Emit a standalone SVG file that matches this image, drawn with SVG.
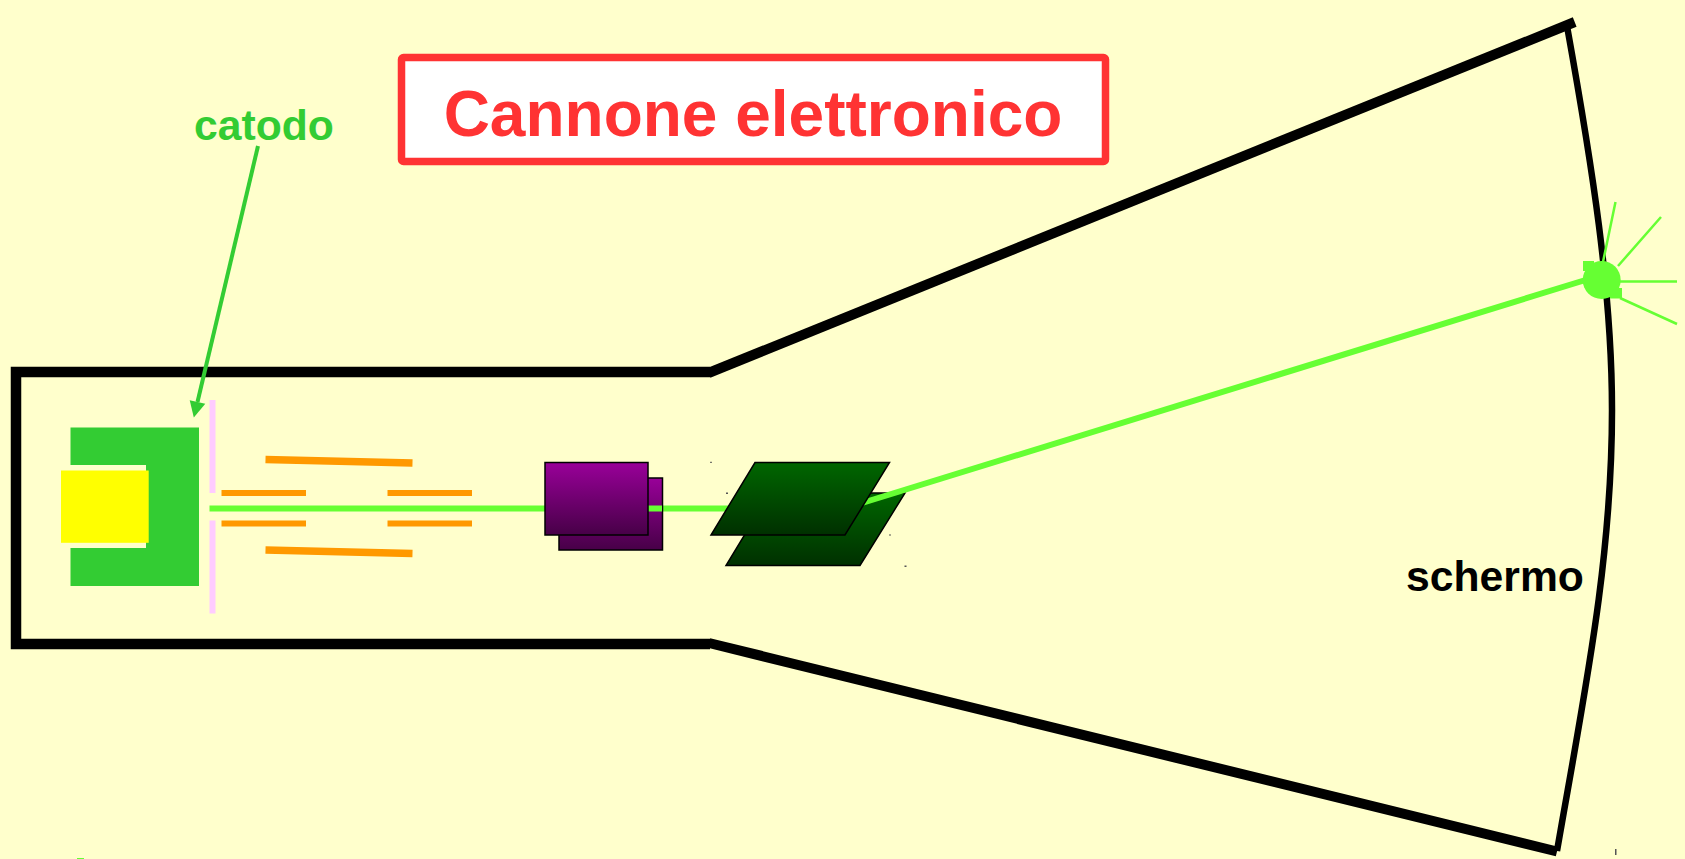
<svg xmlns="http://www.w3.org/2000/svg" width="1685" height="859" viewBox="0 0 1685 859">
<style>
text{font-family:"Liberation Sans",Arial,sans-serif;font-weight:bold}
.tube{fill:none;stroke:#000;stroke-linecap:butt}
.beam{fill:none;stroke:#66ff33;stroke-width:6}
.ray{fill:none;stroke:#66ff33;stroke-width:2.5}
.or{fill:none;stroke:#ff9900}
.pk{fill:#ffccff}
.pl{stroke:#000;stroke-width:1.5}
.dot{fill:#555}
</style>
<defs>
<linearGradient id="pg" x1="0" y1="0" x2="0" y2="1"><stop offset="0" stop-color="#990099"/><stop offset="1" stop-color="#470047"/></linearGradient>
<linearGradient id="gg" x1="0" y1="0" x2="0" y2="1"><stop offset="0" stop-color="#006600"/><stop offset="1" stop-color="#003000"/></linearGradient>
<marker id="ah" markerUnits="userSpaceOnUse" markerWidth="18" markerHeight="18" refX="0" refY="8" orient="auto" overflow="visible"><path d="M0 0L16 8L0 16Z" fill="#33cc33"/></marker>
</defs>
<rect width="1685" height="859" fill="#ffffcc"/>
<g id="tube">
<path class="tube" stroke-width="10.500" d="M710 372H16V644H710"/>
<path class="tube" stroke-width="10" d="M708.500 373L1574.700 22"/>
<path class="tube" stroke-width="10" d="M709 643L1557 851.500"/>
<path class="tube" stroke-width="6.500" d="M1567 26C1592 165 1612 290 1612 410C1612 560 1585 690 1557 851"/>
</g>
<g id="catodo-block">
<path fill="#33cc33" d="M70.500 427.500H199V586H70.500V548H146V465H70.500Z"/>
<rect x="61" y="470.500" width="87.700" height="72.300" fill="#ffff00"/>
</g>
<g id="griglia">
<rect class="pk" x="209.500" y="400" width="6" height="93"/>
<rect class="pk" x="209.500" y="520.500" width="6" height="93"/>
</g>
<g id="anodi">
<path class="or" stroke-width="7.500" d="M265.500 459.500L412.500 463M265.500 550L412.500 553.500"/>
<path class="or" stroke-width="6" d="M221.500 493H306M221.500 523.500H306M387.500 493H472M387.500 523.500H472"/>
</g>
<g id="connectors">
<path class="beam" d="M209.500 508.500H560"/>
<path class="beam" d="M640 508.500H735"/>
<line x1="258" y1="146" x2="197.500" y2="402" stroke="#33cc33" stroke-width="4" marker-end="url(#ah)"/>
</g>
<g id="deflettori-verticali">
<rect class="pl" x="559" y="478" width="103.500" height="72" fill="url(#pg)"/>
<path class="beam" d="M648 508.500H662"/>
<rect class="pl" x="545" y="462.500" width="103" height="72.500" fill="url(#pg)"/>
</g>
<g id="deflettori-orizzontali">
<path class="pl" fill="url(#gg)" d="M770 493H905L860 565.500H726Z"/>
<path d="M862 503L1592 278" fill="none" stroke="#66ff33" stroke-width="6"/>
<path class="pl" fill="url(#gg)" d="M755 462.500H889.500L845 535H711Z"/>
<rect class="dot" x="710" y="461.800" width="2" height="1"/><rect class="dot" x="726" y="492.500" width="2" height="1.500"/><rect class="dot" x="889" y="534.500" width="2" height="1"/><rect class="dot" x="904.500" y="565.500" width="2" height="1.500"/>
</g>
<g id="spot">
<circle cx="1601.700" cy="280" r="19" fill="#66ff33"/>
<rect x="1583" y="261" width="11" height="10" fill="#66ff33"/>
<rect x="1610" y="288" width="12" height="10.500" fill="#66ff33"/>
<path class="ray" d="M1615.500 202L1603 262M1661 217L1618 266M1620 281.500H1677M1620 298L1677 324"/>
</g>
<g id="title">
<rect x="401.500" y="57.500" width="704" height="104" rx="2" fill="#fff" stroke="#ff3333" stroke-width="7.500"/>
<text x="753" y="136" font-size="64" text-anchor="middle" fill="#ff3333">Cannone elettronico</text>
</g>
<g id="label-catodo"><text x="264" y="140" font-size="42.670" text-anchor="middle" fill="#33cc33">catodo</text></g>
<g id="label-schermo"><text x="1495" y="591" font-size="42.670" text-anchor="middle" fill="#000">schermo</text></g>
<rect x="1615" y="849" width="1.500" height="6" fill="#555"/>
<rect x="77" y="858" width="7" height="1" fill="#66ff33"/>
</svg>
